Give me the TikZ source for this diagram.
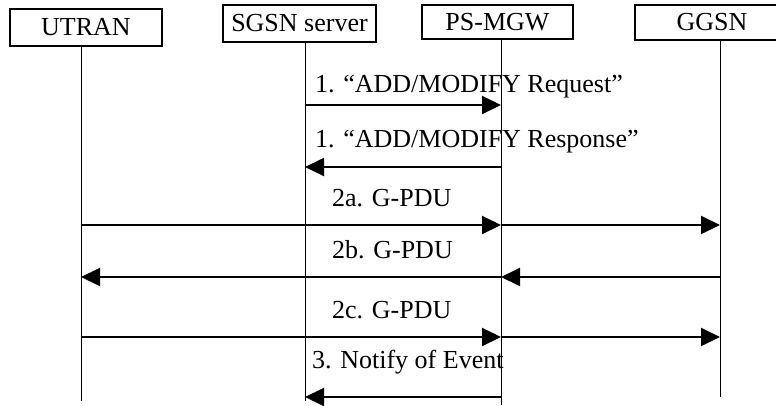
\documentclass[tikz,border=0pt]{standalone}
\usepackage{fontspec}
\setmainfont{Liberation Serif}
\usetikzlibrary{arrows.meta}
\begin{document}
\begin{tikzpicture}[x=1pt,y=-1pt,
  font=\fontsize{26}{30}\selectfont,
  entity/.style={draw,line width=1.5pt,inner sep=0pt,minimum width=#1},
  lifeline/.style={line width=1pt},
  msg/.style={line width=2pt,-{Triangle[length=19pt,width=18pt]}},
  lbl/.style={anchor=base west,inner sep=0pt}]
\useasboundingbox (0,0) rectangle (776,405);
\clip (0,0) rectangle (776,405);
% entities
\node[entity=152pt,minimum height=37pt] (utran) at (86,27.5) {UTRAN};
\node[entity=153pt,minimum height=37pt] (sgsn) at (299.5,23.5) {SGSN server};
\node[entity=151pt,minimum height=34pt] (mgw) at (497.5,22) {PS-MGW};
\node[entity=154pt,minimum height=35pt] (ggsn) at (712,22.5) {GGSN};
% lifeline anchors
\coordinate (lu) at (81,46);
\coordinate (ls) at (305,42);
\coordinate (lm) at (501,39);
\coordinate (lg) at (720,40);
\coordinate (eu) at (81,401);
\coordinate (es) at (305,401);
\coordinate (em) at (501,405);
\coordinate (eg) at (720,397);
\draw[lifeline] (lu) -- (eu);
\draw[lifeline] (ls) -- (es);
\draw[lifeline] (lm) -- (em);
\draw[lifeline] (lg) -- (eg);
% message rows
\coordinate (r1) at (0,105);
\coordinate (r1b) at (0,167);
\coordinate (r2a) at (0,225);
\coordinate (r2b) at (0,277);
\coordinate (r2c) at (0,337);
\coordinate (r3) at (0,397);
% messages
\draw[msg] (ls |- r1) -- (lm |- r1);
\draw[msg] (lm |- r1b) -- (ls |- r1b);
\draw[msg] (lu |- r2a) -- (lm |- r2a);
\draw[msg] (lm |- r2a) -- (lg |- r2a);
\draw[msg] (lg |- r2b) -- (lm |- r2b);
\draw[msg] (lm |- r2b) -- (lu |- r2b);
\draw[msg] (lu |- r2c) -- (lm |- r2c);
\draw[msg] (lm |- r2c) -- (lg |- r2c);
\draw[msg] (lm |- r3) -- (ls |- r3);
% labels
\node[lbl] (t1) at (315,92) {1. “ADD/MODIFY Request”};
\node[lbl] (t1b) at (315,147) {1. “ADD/MODIFY Response”};
\node[lbl] (t2a) at (332,206) {2a. G-PDU};
\node[lbl] (t2b) at (332,258) {2b. G-PDU};
\node[lbl] (t2c) at (332,318) {2c. G-PDU};
\node[lbl] (t3) at (312,368) {3. Notify of Event};
\end{tikzpicture}
\end{document}
